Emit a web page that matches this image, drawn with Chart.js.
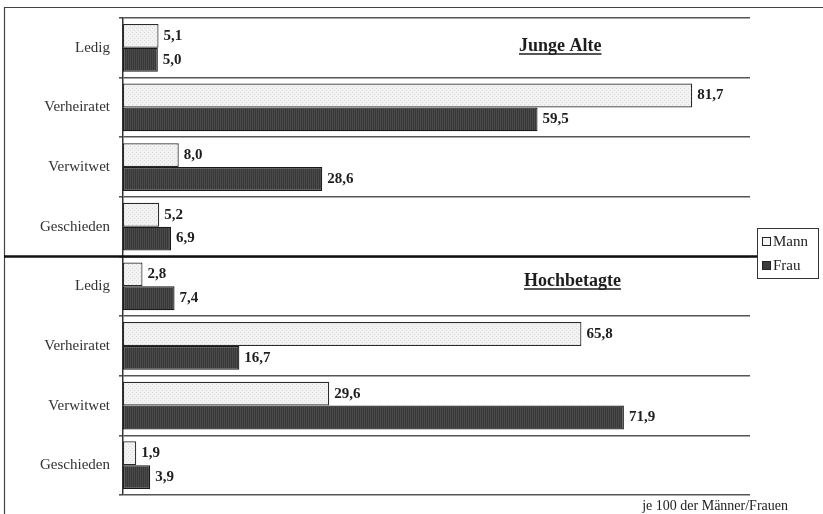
<!DOCTYPE html>
<html>
<head>
<meta charset="utf-8">
<script src="https://cdn.jsdelivr.net/npm/chart.js@4/dist/chart.umd.min.js"></script>
<style>
  html, body { margin: 0; padding: 0; background: #fff; }
  #wrap { width: 823px; height: 514px; position: relative; }
</style>
</head>
<body>
<div id="wrap"><canvas id="c" width="823" height="514"></canvas></div>
<script>
// Familienstand je 100 Männer bzw. Frauen
const categories = ['Ledig', 'Verheiratet', 'Verwitwet', 'Geschieden'];
const groups = ['Junge Alte', 'Hochbetagte'];

const mannJunge = [5.1, 81.7, 8.0, 5.2];
const frauJunge = [5.0, 59.5, 28.6, 6.9];
const mannHoch  = [2.8, 65.8, 29.6, 1.9];
const frauHoch  = [7.4, 16.7, 71.9, 3.9];

const seriesNames = ['Mann', 'Frau'];
const footnote = 'je 100 der Männer/Frauen';

const labels = categories.concat(categories);
const mannValues = mannJunge.concat(mannHoch);
const frauValues = frauJunge.concat(frauHoch);

const SERIF = '"Liberation Serif", "Times New Roman", serif';

function makePattern(base, ink, kind) {
  const p = document.createElement('canvas');
  p.width = 4; p.height = 4;
  const g = p.getContext('2d');
  g.fillStyle = base;
  g.fillRect(0, 0, 4, 4);
  g.fillStyle = ink;
  if (kind === 'dots') {
    g.fillRect(0, 0, 1, 1);
    g.fillRect(2, 2, 1, 1);
  } else {
    g.fillRect(0, 0, 1, 4);
    g.fillRect(2, 0, 1, 4);
  }
  return document.createElement('canvas').getContext('2d').createPattern(p, 'repeat');
}

const mannFill = makePattern('#f2f2f2', '#dcdcdc', 'dots');
const frauFill = makePattern('#383838', '#4a4a4a', 'lines');

const fmt = v => v.toFixed(1).replace('.', ',');

const decorations = {
  id: 'decorations',
  afterDatasetsDraw(chart) {
    const ctx = chart.ctx;
    const y = chart.scales.y;
    ctx.save();

    // value labels at the bar ends
    ctx.font = 'bold 15px ' + SERIF;
    ctx.fillStyle = '#1e1e1e';
    ctx.textAlign = 'left';
    ctx.textBaseline = 'middle';
    chart.data.datasets.forEach((ds, di) => {
      chart.getDatasetMeta(di).data.forEach((bar, i) => {
        ctx.fillText(fmt(ds.data[i]), bar.x + 5, bar.y);
      });
    });

    // frame
    ctx.strokeStyle = '#444';
    ctx.lineWidth = 1.2;
    ctx.beginPath();
    ctx.moveTo(4.5, 514);
    ctx.lineTo(4.5, 7.5);
    ctx.lineTo(823, 7.5);
    ctx.stroke();

    // divider between the two age groups
    const mid = (y.getPixelForValue(3) + y.getPixelForValue(4)) / 2;
    ctx.strokeStyle = '#111';
    ctx.lineWidth = 2.5;
    ctx.beginPath();
    ctx.moveTo(4, mid);
    ctx.lineTo(757, mid);
    ctx.stroke();

    // group titles
    ctx.font = 'bold 18px ' + SERIF;
    ctx.fillStyle = '#1e1e1e';
    ctx.textBaseline = 'alphabetic';
    const titleX = [519, 524];
    const titleY = [51, 286];
    groups.forEach((name, gi) => {
      const tx = titleX[gi], ty = titleY[gi];
      ctx.fillText(name, tx, ty);
      const w = ctx.measureText(name).width;
      ctx.lineWidth = 1.4;
      ctx.strokeStyle = '#1e1e1e';
      ctx.beginPath();
      ctx.moveTo(tx, ty + 3);
      ctx.lineTo(tx + w, ty + 3);
      ctx.stroke();
    });

    // legend
    const lx = 757, ly = 228, lw = 61, lh = 50;
    ctx.fillStyle = '#fff';
    ctx.fillRect(lx, ly, lw, lh);
    ctx.strokeStyle = '#333';
    ctx.lineWidth = 1;
    ctx.strokeRect(lx + 0.5, ly + 0.5, lw, lh);
    ctx.font = '15px ' + SERIF;
    ctx.textBaseline = 'middle';
    const fills = ['#f4f4f4', '#3a3a3a'];
    seriesNames.forEach((name, i) => {
      const cy = ly + 13 + i * 24;
      ctx.fillStyle = fills[i];
      ctx.fillRect(lx + 5, cy - 4, 9, 9);
      ctx.strokeStyle = '#222';
      ctx.strokeRect(lx + 5.5, cy - 3.5, 8, 8);
      ctx.fillStyle = '#222';
      ctx.fillText(name, lx + 16, cy + 1);
    });

    // footnote
    ctx.font = '14px ' + SERIF;
    ctx.textAlign = 'right';
    ctx.textBaseline = 'alphabetic';
    ctx.fillStyle = '#222';
    ctx.fillText(footnote, 788, 510);

    ctx.restore();
  }
};

new Chart(document.getElementById('c'), {
  type: 'bar',
  data: {
    labels: labels,
    datasets: [
      {
        label: seriesNames[0],
        data: mannValues,
        backgroundColor: mannFill,
        borderColor: '#2a2a2a',
        borderWidth: 1.2,
        borderSkipped: false,
        categoryPercentage: 0.8,
        barPercentage: 1.0
      },
      {
        label: seriesNames[1],
        data: frauValues,
        backgroundColor: frauFill,
        borderColor: '#1a1a1a',
        borderWidth: 1.2,
        borderSkipped: false,
        categoryPercentage: 0.8,
        barPercentage: 1.0
      }
    ]
  },
  options: {
    indexAxis: 'y',
    responsive: false,
    animation: false,
    devicePixelRatio: 1,
    layout: { padding: { top: 15, right: 73, bottom: 19, left: 0 } },
    plugins: {
      legend: { display: false },
      tooltip: { enabled: false }
    },
    scales: {
      x: {
        display: false,
        min: 0,
        max: 90
      },
      y: {
        afterFit(scale) { scale.width = 123; },
        grid: {
          offset: true,
          color: '#555',
          lineWidth: 1.6,
          tickLength: 4,
          drawOnChartArea: true
        },
        border: { display: true, color: '#333', width: 1.5 },
        ticks: {
          color: '#333',
          padding: 9,
          font: { family: SERIF, size: 15 }
        }
      }
    }
  },
  plugins: [decorations]
});
</script>
</body>
</html>
